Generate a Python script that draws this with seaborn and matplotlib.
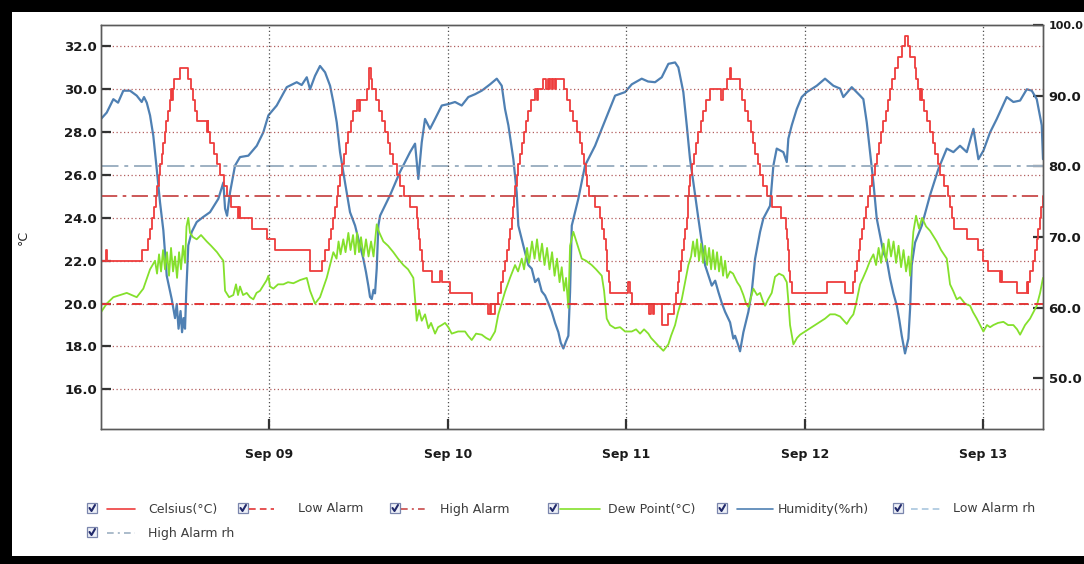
import pandas as pd
import matplotlib
matplotlib.use("Agg")
import matplotlib.pyplot as plt
import matplotlib.dates as mdates
from matplotlib.patches import Rectangle
from matplotlib.lines import Line2D
import seaborn as sns

# ---------------------------------------------------------------- data
# Time axis: hours after 2023-09-08 00:00
START = pd.Timestamp("2023-09-08 00:00")
X_START_H, X_END_H = 1.42, 128.0

celsius_hours = [
    1.42, 2.03, 2.23, 6.89, 7.74, 8.01, 8.28, 8.55, 8.75, 8.95, 9.15, 9.35, 9.55, 9.76,
    9.96, 10.16, 10.36, 10.63, 10.83, 10.95, 11.05, 11.23, 12.04, 13.11, 13.52, 13.79,
    14.06, 14.28, 15.63, 15.75, 15.85, 16.07, 16.54, 17.01, 17.42, 17.89, 18.36, 18.89,
    19.83, 19.95, 20.05, 21.67, 23.73, 24.81, 29.51, 31.08, 31.53, 32.06, 32.33, 32.60,
    32.84, 33.08, 33.31, 33.54, 33.81, 34.08, 34.35, 34.66, 35.02, 35.33, 35.79, 36.05,
    36.20, 37.13, 37.40, 37.64, 37.85, 38.38, 38.78, 39.18, 39.59, 39.92, 40.26, 40.66,
    41.16, 41.60, 42.07, 42.95, 43.85, 44.02, 44.16, 44.29, 44.52, 44.73, 45.86, 46.98,
    47.18, 48.32, 51.24, 53.39, 53.70, 53.85, 54.37, 54.81, 55.11, 55.38, 55.65, 55.92,
    56.18, 56.39, 56.59, 56.75, 56.90, 57.06, 57.26, 57.46, 57.71, 57.96, 58.20, 58.54,
    58.80, 59.14, 59.74, 59.95, 60.10, 60.82, 61.20, 61.49, 61.62, 61.76, 62.03, 62.20,
    62.45, 62.60, 63.64, 64.04, 64.45, 64.85, 65.32, 65.72, 65.99, 66.26, 66.53, 66.73,
    67.00, 67.81, 68.48, 68.75, 69.02, 69.22, 69.35, 69.48, 69.62, 69.82, 72.17, 72.44,
    72.74, 75.07, 75.35, 75.55, 75.74, 76.77, 77.66, 78.42, 78.69, 78.89, 79.10, 79.30,
    79.50, 79.70, 79.90, 80.10, 80.24, 80.34, 80.47, 80.57, 80.84, 81.11, 81.38, 81.69,
    81.98, 82.32, 82.66, 83.26, 84.74, 84.94, 85.55, 85.88, 86.08, 87.29, 87.56, 87.96,
    88.37, 88.77, 89.04, 89.31, 89.64, 89.98, 90.38, 90.85, 91.59, 92.80, 93.47, 93.61,
    93.72, 93.81, 93.91, 94.01, 94.28, 98.94, 101.40, 102.52, 102.68, 102.95, 103.22,
    103.42, 103.69, 103.96, 104.23, 104.50, 104.76, 105.03, 105.37, 105.70, 105.97,
    106.24, 106.55, 106.85, 107.11, 107.38, 107.72, 108.12, 108.52, 109.02, 109.46,
    109.80, 110.14, 110.74, 110.94, 111.21, 111.48, 111.65, 111.80, 112.02, 112.42,
    112.83, 113.23, 113.50, 113.83, 114.17, 114.70, 115.28, 115.51, 115.78, 115.98,
    117.76, 119.21, 119.99, 120.66, 122.24, 122.40, 122.55, 124.47, 125.82, 125.95,
    126.05, 126.26, 126.60, 126.93, 127.14, 127.34, 127.54, 127.74, 127.94, 128.00,
]
celsius_values = [
    22.0, 22.5, 22.0, 22.5, 23.0, 23.5, 24.0, 24.5, 25.0, 25.5, 26.0, 26.5, 27.0, 27.5,
    28.0, 28.5, 29.0, 29.5, 30.0, 29.5, 30.0, 30.5, 31.0, 30.5, 30.0, 29.5,
    29.0, 28.5, 28.0, 28.5, 28.0, 27.5, 27.0, 26.5, 26.0, 25.5, 25.0, 24.5,
    24.0, 24.5, 24.0, 23.5, 23.0, 22.5, 21.5, 22.0, 22.5, 23.0, 23.5, 24.0,
    24.5, 25.0, 25.5, 26.0, 26.5, 27.0, 27.5, 28.0, 28.5, 29.0, 29.5, 29.0,
    29.5, 30.0, 31.0, 30.5, 30.0, 29.5, 29.0, 28.5, 28.0, 27.5, 27.0, 26.5,
    26.0, 25.5, 25.0, 24.5, 24.0, 23.5, 23.0, 22.5, 22.0, 21.5, 21.0, 21.5,
    21.0, 20.5, 20.0, 19.5, 20.0, 19.5, 20.0, 20.5, 21.0, 21.5, 22.0, 22.5,
    23.0, 23.5, 24.0, 24.5, 25.0, 25.5, 26.0, 26.5, 27.0, 27.5, 28.0, 28.5,
    29.0, 29.5, 30.0, 29.5, 30.0, 30.5, 30.0, 30.5, 30.0, 30.5, 30.0, 30.5,
    30.0, 30.5, 30.0, 29.5, 29.0, 28.5, 28.0, 27.5, 27.0, 26.5, 26.0, 25.5,
    25.0, 24.5, 24.0, 23.5, 23.0, 22.5, 22.0, 21.5, 21.0, 20.5, 21.0, 20.5,
    20.0, 19.5, 20.0, 19.5, 20.0, 19.0, 19.5, 20.0, 20.5, 21.0, 21.5, 22.0,
    22.5, 23.0, 23.5, 24.0, 24.5, 25.0, 25.5, 26.0, 26.5, 27.0, 27.5, 28.0,
    28.5, 29.0, 29.5, 30.0, 29.5, 30.0, 30.5, 31.0, 30.5, 30.0, 29.5, 29.0,
    28.5, 28.0, 27.5, 27.0, 26.5, 26.0, 25.5, 25.0, 24.5, 24.0, 23.5, 23.0,
    22.5, 22.0, 21.5, 21.0, 20.5, 21.0, 20.5, 21.0, 21.5, 22.0, 22.5,
    23.0, 23.5, 24.0, 24.5, 25.0, 25.5, 26.0, 26.5, 27.0, 27.5,
    28.0, 28.5, 29.0, 29.5, 30.0, 30.5, 31.0, 31.5, 32.0, 32.5,
    32.0, 31.5, 31.0, 30.5, 30.0, 29.5, 30.0, 29.5, 29.0, 28.5,
    28.0, 27.5, 27.0, 26.5, 26.0, 25.5, 25.0, 24.5, 24.0, 23.5,
    23.0, 22.5, 22.0, 21.5, 21.0, 21.5, 21.0, 20.5, 21.0, 20.5,
    21.0, 21.5, 22.0, 22.5, 23.0, 23.5, 24.0, 24.5, 25.0, 25.0,
]

humidity_hours = [
    1.42, 2.19, 3.08, 3.71, 4.42, 5.32, 6.22, 6.89, 7.20, 7.57, 8.01, 8.45, 8.91, 9.35,
    9.80, 10.25, 10.92, 11.37, 11.60, 11.84, 12.11, 12.31, 12.51, 12.71, 12.87, 13.15,
    13.61, 14.28, 15.13, 16.07, 17.19, 17.86, 18.09, 18.36, 18.76, 19.43, 20.10, 21.22,
    22.35, 23.23, 23.91, 25.03, 26.38, 27.72, 28.39, 29.07, 29.51, 30.18, 30.85, 31.53,
    32.20, 32.64, 33.10, 33.54, 34.21, 34.88, 35.56, 36.67, 37.03, 37.34, 37.57, 37.80,
    38.04, 38.24, 38.47, 38.69, 38.92, 40.26, 41.60, 42.95, 43.62, 44.06, 44.52, 44.96,
    45.63, 46.31, 47.21, 48.09, 48.99, 49.89, 50.78, 51.68, 52.58, 53.70, 54.60, 55.27,
    55.71, 56.16, 56.83, 57.28, 57.50, 58.40, 58.85, 59.30, 59.75, 60.19, 60.64, 61.09,
    61.54, 61.99, 62.44, 62.88, 63.20, 63.55, 63.90, 64.22, 64.45, 64.68, 65.56, 66.46,
    67.81, 68.71, 69.59, 70.50, 71.84, 72.74, 74.08, 74.93, 75.87, 76.77, 77.66, 78.56,
    79.00, 79.67, 80.13, 80.57, 81.02, 81.69, 82.59, 83.49, 83.95, 84.38, 84.85, 85.28,
    85.95, 86.39, 86.62, 87.07, 87.29, 87.74, 88.41, 88.86, 89.31, 89.98, 90.42, 91.32,
    91.77, 92.22, 93.11, 93.57, 93.78, 94.24, 94.91, 95.58, 96.26, 97.60, 98.71, 99.83,
    100.73, 101.17, 102.30, 103.42, 103.86, 104.32, 104.76, 105.21, 105.66, 106.55,
    107.00, 107.45, 107.90, 108.35, 108.70, 109.02, 109.46, 109.91, 110.14, 110.36,
    110.81, 111.71, 112.82, 113.94, 115.07, 115.96, 116.85, 117.76, 118.65, 119.32,
    119.99, 120.89, 121.79, 123.13, 124.02, 124.92, 125.82, 126.49, 127.16, 127.83,
    128.00,
]
humidity_values = [
    86.7, 87.6, 89.5, 89.0, 90.7, 90.7, 90.0, 89.1, 89.8, 89.0, 87.2, 84.3, 79.6, 74.9,
    70.9, 64.5, 61.2, 58.5, 60.5, 57.0, 59.5, 56.5, 58.5, 57.0, 62.0, 68.8,
    70.7, 72.1, 72.8, 73.5, 75.4, 77.7, 74.0, 73.0, 76.3, 80.1, 81.3, 81.5,
    82.9, 84.8, 87.2, 88.6, 91.2, 91.9, 91.5, 92.6, 90.9, 92.8, 94.2, 93.3,
    91.4, 89.1, 86.2, 82.0, 77.7, 73.5, 71.6, 66.9, 65.0, 63.1, 61.5, 61.2,
    62.5, 62.0, 65.5, 71.6, 73.0, 75.9, 79.2, 82.0, 83.2, 78.2, 83.4, 86.7,
    85.3, 86.7, 88.6, 88.8, 89.1, 88.6, 89.8, 90.2, 90.7, 91.6, 92.4, 91.4,
    88.1, 85.8, 81.0, 76.3, 71.6, 67.8, 66.0, 65.5, 63.6, 64.1, 62.3, 61.7,
    60.6, 59.4, 57.8, 56.5, 55.0, 54.2, 55.2, 56.0, 62.2, 71.6, 75.4, 80.1,
    82.9, 85.3, 87.6, 90.0, 90.5, 91.6, 92.4, 92.0, 91.9, 92.6, 94.5, 94.7,
    94.0, 90.5, 85.8, 81.0, 77.7, 72.6, 66.0, 63.1, 63.8, 62.2, 60.6, 59.4,
    57.9, 55.6, 56.0, 54.6, 53.8, 56.5, 59.4, 62.2, 66.9, 70.7, 72.6, 74.4,
    80.1, 82.5, 82.0, 80.6, 83.9, 85.8, 88.1, 89.8, 90.5, 91.4, 92.4, 91.4,
    91.0, 89.8, 91.2, 90.0, 89.5, 86.2, 82.0, 77.7, 72.6, 67.8,
    66.8, 64.1, 62.0, 60.3, 58.2, 56.0, 53.5, 55.6, 59.8, 66.0,
    69.2, 71.6, 75.9, 79.6, 82.5, 82.0, 82.9, 82.0, 85.3, 81.0,
    82.2, 84.8, 86.7, 89.8, 89.1, 89.3, 90.9, 90.7, 89.5, 85.8,
    81.0,
]

dew_hours = [
    1.42, 2.19, 3.08, 3.98, 4.88, 6.22, 7.11, 8.01, 8.68, 8.95, 9.22, 9.49, 9.76, 10.02,
    10.29, 10.56, 10.83, 11.10, 11.37, 11.64, 11.91, 12.17, 12.44, 12.71, 12.91, 13.15,
    13.38, 13.79, 14.28, 14.86, 15.63, 16.21, 17.01, 17.42, 17.86, 18.09, 18.63, 19.20,
    19.56, 19.83, 20.10, 20.51, 21.00, 21.45, 21.89, 22.32, 22.79, 23.69, 23.91, 24.13,
    24.58, 25.21, 25.92, 26.55, 27.27, 28.17, 29.07, 29.51, 30.18, 30.85, 31.75, 32.64,
    33.07, 33.34, 33.61, 33.98, 34.28, 34.66, 34.95, 35.29, 35.56, 35.83, 36.09, 36.36,
    36.70, 37.03, 37.37, 37.71, 38.04, 38.47, 38.71, 39.36, 39.99, 40.70, 41.33, 42.05,
    42.68, 43.39, 43.85, 44.16, 44.52, 44.96, 45.41, 45.77, 46.31, 46.71, 47.21, 47.65,
    48.09, 48.55, 49.40, 50.34, 50.74, 51.24, 51.82, 52.58, 53.16, 53.70, 54.37, 54.81,
    55.71, 56.38, 57.06, 57.46, 57.96, 58.27, 58.67, 58.94, 59.34, 59.68, 60.01, 60.35,
    60.68, 61.02, 61.36, 61.69, 62.03, 62.37, 62.70, 63.04, 63.33, 63.64, 63.91, 64.22,
    64.45, 64.89, 65.39, 66.02, 66.60, 67.36, 67.94, 68.71, 69.02, 69.38, 69.82, 70.50,
    71.17, 71.84, 72.74, 73.32, 73.86, 74.39, 74.97, 75.33, 75.87, 76.41, 76.99, 77.66,
    78.02, 78.56, 78.96, 79.46, 79.90, 80.35, 80.71, 80.98, 81.25, 81.51, 81.78, 82.05,
    82.32, 82.59, 82.86, 83.13, 83.40, 83.66, 83.93, 84.20, 84.47, 84.74, 85.01, 85.28,
    85.55, 85.95, 86.35, 86.90, 87.29, 87.74, 88.10, 88.41, 88.77, 89.08, 89.58, 89.98,
    90.38, 90.65, 91.06, 91.55, 91.99, 92.53, 93.11, 93.57, 93.81, 94.01, 94.46, 94.95,
    95.36, 96.03, 96.70, 97.37, 98.04, 98.71, 99.39, 100.06, 100.73, 101.63, 102.07,
    102.52, 102.88, 103.42, 103.82, 104.32, 104.76, 105.21, 105.57, 105.91, 106.24,
    106.58, 106.91, 107.25, 107.58, 107.92, 108.26, 108.59, 108.93, 109.26, 109.60,
    109.94, 110.14, 110.58, 110.94, 111.34, 111.75, 112.29, 112.82, 113.72, 114.30,
    115.07, 115.51, 115.92, 116.41, 116.85, 117.52, 118.20, 118.60, 119.10, 119.54,
    119.99, 120.48, 120.89, 121.33, 121.96, 122.68, 123.31, 124.02, 124.52, 124.92,
    125.59, 126.26, 126.71, 127.16, 127.61, 128.00,
]
dew_values = [
    19.6, 20.0, 20.3, 20.4, 20.5, 20.3, 20.7, 21.6, 22.0, 21.4, 22.3, 21.5, 22.5, 21.6,
    22.4, 21.3, 22.6, 21.5, 22.2, 21.2, 22.4, 21.6, 22.7, 21.9, 23.6, 24.0,
    23.3, 23.1, 23.0, 23.2, 22.9, 22.7, 22.4, 22.2, 22.0, 20.6, 20.3, 20.4,
    20.9, 20.4, 20.8, 20.4, 20.5, 20.3, 20.2, 20.5, 20.6, 21.1, 21.3, 20.8,
    20.7, 20.9, 20.9, 21.0, 20.95, 21.1, 21.2, 20.6, 20.0, 20.3, 21.2, 22.4,
    22.1, 22.9, 22.3, 23.0, 22.4, 23.3, 22.5, 23.2, 22.3, 23.3, 22.4, 23.1,
    22.2, 23.0, 22.2, 22.9, 22.2, 23.7, 23.4, 22.9, 22.7, 22.4, 22.1, 21.8,
    21.6, 21.2, 19.2, 19.7, 19.2, 19.5, 18.85, 19.1, 18.6, 18.9, 19.0, 19.1,
    18.9, 18.6, 18.7, 18.7, 18.5, 18.3, 18.6, 18.55, 18.4, 18.3, 18.7, 19.5,
    20.55, 21.2, 21.8, 21.5, 22.1, 21.6, 22.6, 21.9, 22.9, 22.1, 23.0, 22.0,
    22.8, 21.8, 22.6, 21.6, 22.4, 21.3, 22.1, 21.0, 21.7, 20.6, 21.2, 19.8,
    22.7, 23.35, 22.8, 22.1, 22.0, 21.8, 21.6, 21.3, 20.6, 19.3, 19.0, 18.85,
    18.9, 18.7, 18.7, 18.8, 18.6, 18.8, 18.6, 18.4, 18.2, 18.0, 17.8, 18.1,
    18.5, 19.0, 19.6, 20.2, 21.0, 21.8, 22.2, 22.9, 22.2, 23.0, 22.0, 22.8,
    21.9, 22.7, 21.8, 22.6, 21.6, 22.5, 21.6, 22.4, 21.5, 22.2, 21.3, 22.0,
    21.2, 21.5, 21.4, 21.0, 20.8, 20.4, 20.0, 19.85, 20.3, 20.7, 20.4, 20.5,
    20.1, 19.9, 20.2, 20.5, 21.25, 21.4, 21.3, 21.0, 20.0, 19.0, 18.1, 18.4,
    18.55, 18.7, 18.85, 19.0, 19.15, 19.3, 19.5, 19.5, 19.4, 19.05, 19.3,
    19.5, 20.0, 20.9, 21.2, 21.6, 22.0, 22.3, 21.8, 22.6, 21.9,
    22.8, 22.0, 23.0, 22.2, 22.9, 21.9, 22.7, 21.7, 22.5, 21.5,
    22.2, 21.3, 23.35, 24.1, 23.5, 24.0, 23.6, 23.4, 22.9, 22.5,
    22.1, 20.9, 20.6, 20.2, 20.3, 20.0, 19.9, 19.6, 19.3, 19.0,
    18.7, 19.0, 18.9, 19.0, 19.1, 19.15, 19.0, 19.0, 18.8, 18.55,
    19.0, 19.3, 19.6, 19.9, 20.5, 21.2,
]

LOW_ALARM = 20.0
HIGH_ALARM = 25.0
LOW_ALARM_RH = 40.0
HIGH_ALARM_RH = 80.0

temp_ticks = [16.0, 18.0, 20.0, 22.0, 24.0, 26.0, 28.0, 30.0, 32.0]
rh_ticks = [50.0, 60.0, 70.0, 80.0, 90.0, 100.0]
temp_limits = (14.15, 33.0)
rh_limits = (42.8, 100.0)

legend_labels = ["Celsius(°C)", "Low Alarm", "High Alarm", "Dew Point(°C)",
                 "Humidity(%rh)", "Low Alarm rh", "High Alarm rh"]

# ---------------------------------------------------------------- styling
C_CELSIUS = "#ee3d3d"
C_DEW = "#84e02c"
C_HUM = "#4f80b3"
C_LOW = "#e23636"
C_HIGH = "#c84a4a"
C_LOW_RH = "#a9c6de"
C_HIGH_RH = "#9db0c2"
LS_DASH = (0, (5, 3))
LS_DASHDOT = (0, (9, 3, 2, 3))
LS_DASH_KEY = (0, (4, 2.5))
LS_DASHDOT_KEY = (0, (4, 2.5, 1.2, 2.5))

sns.set_theme(style="white")
plt.rcParams["font.family"] = ["DejaVu Sans"]


def to_time(hours):
    return START + pd.to_timedelta(pd.Series(hours), unit="h")


df_c = pd.DataFrame({"time": to_time(celsius_hours), "value": celsius_values})
df_h = pd.DataFrame({"time": to_time(humidity_hours), "value": humidity_values})
df_d = pd.DataFrame({"time": to_time(dew_hours), "value": dew_values})

W, H = 1084, 564
fig = plt.figure(figsize=(W / 100, H / 100), dpi=100)
fig.patch.set_facecolor("black")
fig.add_artist(Rectangle((12 / W, 8 / H), (W - 12) / W, (556 - 12) / H,
                         transform=fig.transFigure, facecolor="white",
                         edgecolor="none", zorder=-10))

ax = fig.add_axes([101 / W, 1 - 429 / H, 942 / W, 404 / H])
ax2 = ax.twinx()
ax.set_zorder(2)
ax2.set_zorder(1)
ax.patch.set_visible(False)
ax2.patch.set_facecolor("white")

# humidity on the right-hand axis
sns.lineplot(data=df_h, x="time", y="value", ax=ax2, color=C_HUM,
             linewidth=1.6, estimator=None)
ax2.axhline(HIGH_ALARM_RH, color=C_HIGH_RH, linestyle=LS_DASHDOT, linewidth=1.4)
ax2.axhline(LOW_ALARM_RH, color=C_LOW_RH, linestyle=LS_DASH, linewidth=1.4)

# temperature series on the left-hand axis
sns.lineplot(data=df_d, x="time", y="value", ax=ax, color=C_DEW,
             linewidth=1.3, estimator=None)
sns.lineplot(data=df_c, x="time", y="value", ax=ax, color=C_CELSIUS,
             linewidth=1.3, estimator=None, drawstyle="steps-post")
ax.axhline(LOW_ALARM, color=C_LOW, linestyle=LS_DASH, linewidth=1.4)
ax.axhline(HIGH_ALARM, color=C_HIGH, linestyle=LS_DASHDOT, linewidth=1.3)

# axes limits / ticks
ax.set_xlim(START + pd.Timedelta(hours=X_START_H), START + pd.Timedelta(hours=X_END_H))
ax.set_ylim(*temp_limits)
ax2.set_ylim(*rh_limits)
ax.set_yticks(temp_ticks)
ax.set_yticklabels([f"{v:.1f}" for v in temp_ticks])
ax2.set_yticks(rh_ticks)
ax2.set_yticklabels([f"{v:.1f}" for v in rh_ticks])
ax.xaxis.set_major_locator(mdates.DayLocator())
ax.xaxis.set_major_formatter(mdates.DateFormatter("%b %d"))

ax.set_xlabel("")
ax2.set_xlabel("")
ax2.set_ylabel("")
ax.set_ylabel("°C", fontsize=9, color="#222222", rotation=90)
ax.yaxis.set_label_coords(-0.0754, 0.473)

ax.tick_params(axis="y", direction="in", length=7, width=1.6, color="#333333",
               labelsize=9.5, labelcolor="#1a1a1a", pad=3, left=True)
ax2.tick_params(axis="y", direction="in", length=7, width=1.6, color="#333333",
                labelsize=9.5, labelcolor="#1a1a1a", pad=4, right=True)
ax.tick_params(axis="x", direction="in", length=7, width=1.6, color="#333333",
               labelsize=9, labelcolor="#1a1a1a", pad=14, bottom=True)
for lab in ax.get_yticklabels() + ax2.get_yticklabels() + ax.get_xticklabels():
    lab.set_fontweight("bold")
# the widest right-hand label sits against the frame edge, so it is set a bit smaller
ax2.get_yticklabels()[-1].set_fontsize(8)

# dotted grid
ax.set_axisbelow(True)
ax.yaxis.grid(True, linestyle=(0, (1, 2)), color="#b35f5f", linewidth=0.9)
ax.xaxis.grid(True, linestyle=(0, (1, 2)), color="#4d4d4d", linewidth=0.9)
ax2.grid(False)

for a in (ax, ax2):
    for s in a.spines.values():
        s.set_color("#5a5a5a")
        s.set_linewidth(1.0)

# ---------------------------------------------------------------- legend
def fx(px):
    return px / W


def fy(py):
    return 1 - py / H


legend_styles = [
    (C_CELSIUS, "-"), (C_LOW, LS_DASH_KEY), (C_HIGH, LS_DASHDOT_KEY), (C_DEW, "-"),
    (C_HUM, "-"), (C_LOW_RH, LS_DASH_KEY), (C_HIGH_RH, LS_DASHDOT_KEY),
]
# (checkbox x, line start, line end, text x, row centre y)
legend_slots = [
    (87, 107, 135, 148, 509), (238, 249, 274, 298, 509), (390, 401, 428, 440, 509),
    (548, 560, 600, 608, 509), (717, 737, 773, 778, 509), (893, 911, 943, 953, 509),
    (87, 107, 135, 148, 533),
]

for label, (color, ls), (cbx, l0, l1, tx, ry) in zip(legend_labels, legend_styles, legend_slots):
    box = 10
    top = ry - 6
    fig.add_artist(Rectangle((fx(cbx), fy(top + box)), box / W, box / H,
                             transform=fig.transFigure, facecolor="#eef1f8",
                             edgecolor="#7b86ad", linewidth=0.9, zorder=5))
    fig.add_artist(Line2D([fx(cbx + 2.5), fx(cbx + 4.5), fx(cbx + 8)],
                          [fy(top + 5), fy(top + 8), fy(top + 2)],
                          transform=fig.transFigure, color="#222a6b",
                          linewidth=1.5, zorder=6))
    fig.add_artist(Line2D([fx(l0), fx(l1)], [fy(ry), fy(ry)],
                          transform=fig.transFigure, color=color,
                          linestyle=ls, linewidth=1.2, zorder=5))
    fig.text(fx(tx), fy(ry), label, fontsize=9, color="#3c3c3c",
             va="center", ha="left")

fig.savefig("out.png", dpi=100, facecolor=fig.get_facecolor())
